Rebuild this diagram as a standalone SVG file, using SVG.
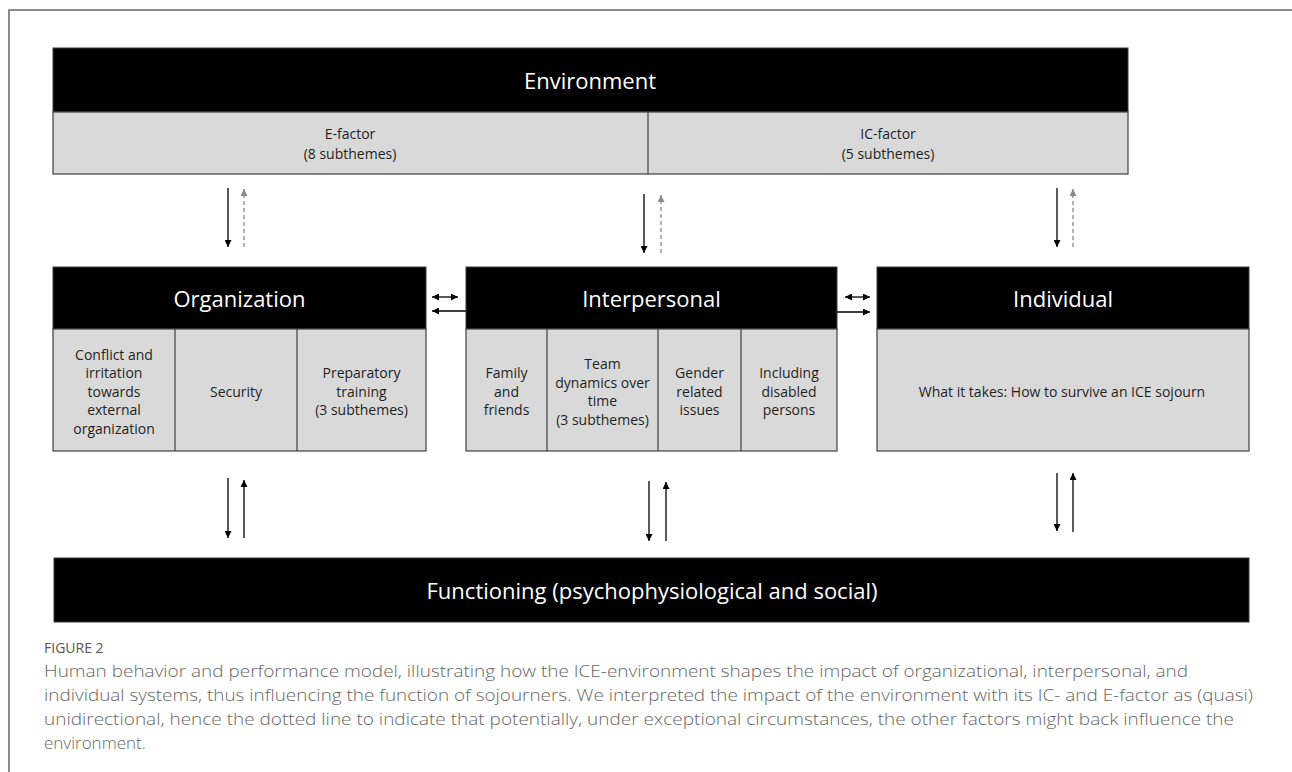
<svg xmlns="http://www.w3.org/2000/svg" width="1292" height="772" viewBox="0 0 1292 772">
<style>
.hdr{fill:#000;stroke:#3a3a3a;stroke-width:1}
.cell{fill:#d9d9d9;stroke:#404040;stroke-width:1.2}
.div{stroke:#404040;stroke-width:1.2}
.ht{font-family:"Open Sans","Liberation Sans",sans-serif;font-size:22px;fill:#fff;text-anchor:middle;dominant-baseline:central}
.ct{font-family:"Open Sans","Liberation Sans",sans-serif;font-size:14px;fill:#1f1f1f;text-anchor:middle;dominant-baseline:central}
.ln{stroke:#000;stroke-width:1.3;fill:none}
.dl{stroke:#8a8a8a;stroke-width:1.3;stroke-dasharray:4 3;fill:none}
.cap{font-family:"Open Sans","Liberation Sans",sans-serif;font-size:17px;font-weight:300;fill:#666}
.fig{font-family:"Open Sans","Liberation Sans",sans-serif;font-size:14px;fill:#555}
</style>
<defs>
<marker id="ah" viewBox="0 0 10 10" refX="10" refY="5" markerUnits="userSpaceOnUse" markerWidth="7" markerHeight="7" orient="auto-start-reverse">
<path d="M0,0 L10,5 L0,10 z" fill="#000"/>
</marker>
<marker id="ahg" viewBox="0 0 10 10" refX="10" refY="5" markerUnits="userSpaceOnUse" markerWidth="7" markerHeight="7" orient="auto-start-reverse">
<path d="M0,0 L10,5 L0,10 z" fill="#8a8a8a"/>
</marker>
</defs>
<rect x="0" y="0" width="1292" height="772" fill="#fff"/>
<g id="frame">
<path d="M1292,10 H9 V772" fill="none" stroke="#666" stroke-width="1.5"/>
</g>

<g id="environment">
<rect class="hdr" x="53" y="48" width="1075" height="64"/>
<text class="ht" x="590" y="80">Environment</text>
<rect class="cell" x="53" y="112" width="1075" height="62"/>
<line class="div" x1="648" y1="112" x2="648" y2="174"/>
<text class="ct" x="350" y="133">E-factor</text>
<text class="ct" x="350" y="153">(8 subthemes)</text>
<text class="ct" x="888" y="133">IC-factor</text>
<text class="ct" x="888" y="153">(5 subthemes)</text>
</g>

<g id="organization">
<rect class="hdr" x="53" y="267" width="373" height="62"/>
<text class="ht" x="239.5" y="298">Organization</text>
<rect class="cell" x="53" y="329" width="373" height="122"/>
<line class="div" x1="175" y1="329" x2="175" y2="451"/>
<line class="div" x1="297" y1="329" x2="297" y2="451"/>
<text class="ct" x="114" y="354">Conflict and</text>
<text class="ct" x="114" y="372.5">irritation</text>
<text class="ct" x="114" y="391">towards</text>
<text class="ct" x="114" y="409.5">external</text>
<text class="ct" x="114" y="428">organization</text>
<text class="ct" x="236" y="391">Security</text>
<text class="ct" x="361.5" y="372.5">Preparatory</text>
<text class="ct" x="361.5" y="391">training</text>
<text class="ct" x="361.5" y="409.5">(3 subthemes)</text>
</g>

<g id="interpersonal">
<rect class="hdr" x="466" y="267" width="371" height="62"/>
<text class="ht" x="651.5" y="298">Interpersonal</text>
<rect class="cell" x="466" y="329" width="371" height="122"/>
<line class="div" x1="547" y1="329" x2="547" y2="451"/>
<line class="div" x1="658" y1="329" x2="658" y2="451"/>
<line class="div" x1="741" y1="329" x2="741" y2="451"/>
<text class="ct" x="506.5" y="372.5">Family</text>
<text class="ct" x="506.5" y="391">and</text>
<text class="ct" x="506.5" y="409.5">friends</text>
<text class="ct" x="602.5" y="363.5">Team</text>
<text class="ct" x="602.5" y="382">dynamics over</text>
<text class="ct" x="602.5" y="400.5">time</text>
<text class="ct" x="602.5" y="419">(3 subthemes)</text>
<text class="ct" x="699.5" y="372.5">Gender</text>
<text class="ct" x="699.5" y="391">related</text>
<text class="ct" x="699.5" y="409.5">issues</text>
<text class="ct" x="789" y="372.5">Including</text>
<text class="ct" x="789" y="391">disabled</text>
<text class="ct" x="789" y="409.5">persons</text>
</g>

<g id="individual">
<rect class="hdr" x="877" y="267" width="372" height="62"/>
<text class="ht" x="1063" y="298">Individual</text>
<rect class="cell" x="877" y="329" width="372" height="122"/>
<text class="ct" x="1062" y="391">What it takes: How to survive an ICE sojourn</text>
</g>

<g id="functioning">
<rect class="hdr" x="54" y="558" width="1195" height="64"/>
<text class="ht" x="652" y="590">Functioning (psychophysiological and social)</text>
</g>

<g id="connectors">
<line class="ln" x1="228" y1="188" x2="228" y2="247" marker-end="url(#ah)"/>
<line class="dl" x1="244" y1="247" x2="244" y2="189" marker-end="url(#ahg)"/>
<line class="ln" x1="644" y1="194" x2="644" y2="253" marker-end="url(#ah)"/>
<line class="dl" x1="661" y1="253" x2="661" y2="195" marker-end="url(#ahg)"/>
<line class="ln" x1="1057" y1="188" x2="1057" y2="247" marker-end="url(#ah)"/>
<line class="dl" x1="1073" y1="247" x2="1073" y2="189" marker-end="url(#ahg)"/>

<line class="ln" x1="432" y1="297" x2="458" y2="297" marker-start="url(#ah)" marker-end="url(#ah)"/>
<line class="ln" x1="466" y1="311" x2="432" y2="311" marker-end="url(#ah)"/>
<line class="ln" x1="845" y1="297" x2="870" y2="297" marker-start="url(#ah)" marker-end="url(#ah)"/>
<line class="ln" x1="837" y1="312" x2="870" y2="312" marker-end="url(#ah)"/>

<line class="ln" x1="228" y1="478" x2="228" y2="538" marker-end="url(#ah)"/>
<line class="ln" x1="244" y1="538" x2="244" y2="480" marker-end="url(#ah)"/>
<line class="ln" x1="649" y1="481" x2="649" y2="541" marker-end="url(#ah)"/>
<line class="ln" x1="666" y1="541" x2="666" y2="482" marker-end="url(#ah)"/>
<line class="ln" x1="1057" y1="473" x2="1057" y2="531" marker-end="url(#ah)"/>
<line class="ln" x1="1073" y1="532" x2="1073" y2="473" marker-end="url(#ah)"/>
</g>

<g id="caption">
<text class="fig" x="44" y="653">FIGURE 2</text>
<text class="cap" x="44" y="677" textLength="1144" lengthAdjust="spacingAndGlyphs">Human behavior and performance model, illustrating how the ICE-environment shapes the impact of organizational, interpersonal, and</text>
<text class="cap" x="44" y="701" textLength="1209" lengthAdjust="spacingAndGlyphs">individual systems, thus influencing the function of sojourners. We interpreted the impact of the environment with its IC- and E-factor as (quasi)</text>
<text class="cap" x="44" y="725" textLength="1190" lengthAdjust="spacingAndGlyphs">unidirectional, hence the dotted line to indicate that potentially, under exceptional circumstances, the other factors might back influence the</text>
<text class="cap" x="44" y="749">environment.</text>
</g>
</svg>
